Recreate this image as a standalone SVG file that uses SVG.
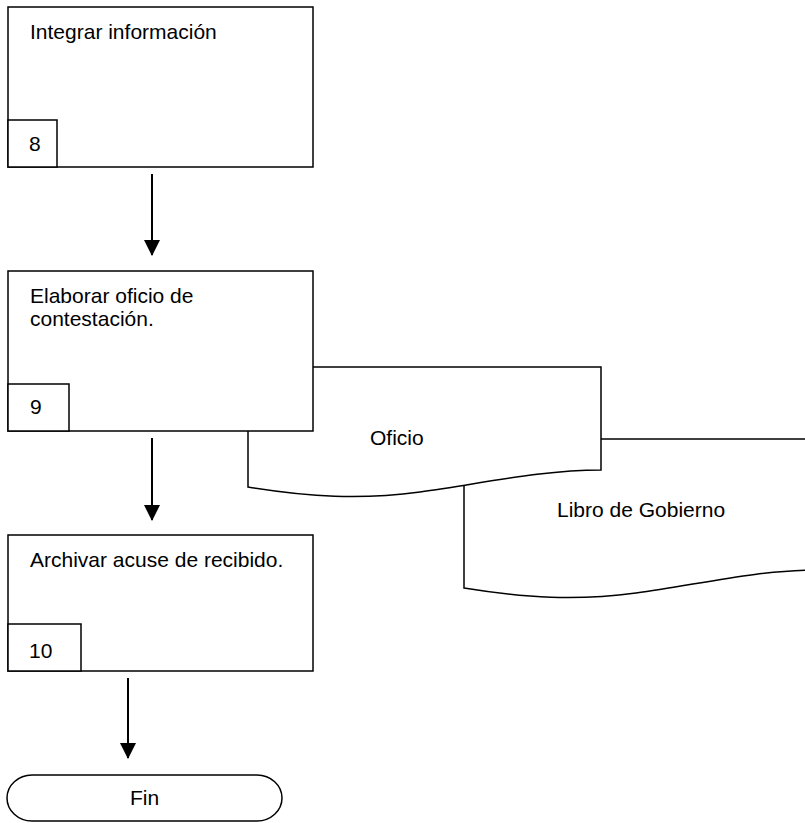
<svg xmlns="http://www.w3.org/2000/svg" width="805" height="823" viewBox="0 0 805 823">
<style>
.shape{fill:#fff;stroke:#000;stroke-width:1.5}
.t{font-family:"Liberation Sans",Arial,sans-serif;font-size:21px;fill:#000}
.conn{stroke:#000;stroke-width:2;fill:none;marker-end:url(#ah)}
</style>
<defs>
<marker id="ah" markerWidth="16" markerHeight="16" viewBox="0 0 16 16" refX="15" refY="8" orient="auto" markerUnits="userSpaceOnUse">
<path d="M0,0 L16,8 L0,16 Z" fill="#000"/>
</marker>
</defs>
<rect width="805" height="823" fill="#fff"/>
<g id="doc-libro">
<path class="shape" d="M464,439 H817 V570 C756,570 696,585 636,593 C576,601 526,598 464,588 Z"/>
<text class="t" x="557" y="517">Libro de Gobierno</text>
</g>
<g id="doc-oficio">
<path class="shape" d="M248,367 H601 V470 C540,470 480,484 420,492 C360,500 310,497 248,487 Z"/>
<text class="t" x="370" y="445">Oficio</text>
</g>
<g id="step8">
<rect class="shape" x="8" y="7" width="305" height="160"/>
<rect class="shape" x="8" y="120" width="49" height="47"/>
<text class="t" x="30" y="39">Integrar información</text>
<text class="t" x="29" y="151">8</text>
</g>
<g id="step9">
<rect class="shape" x="8" y="271" width="305" height="160"/>
<rect class="shape" x="8" y="384" width="61" height="47"/>
<text class="t" x="30" y="303">Elaborar oficio de</text>
<text class="t" x="30" y="326">contestación.</text>
<text class="t" x="30" y="414">9</text>
</g>
<g id="step10">
<rect class="shape" x="8" y="535" width="305" height="136"/>
<rect class="shape" x="8" y="624" width="73" height="47"/>
<text class="t" x="30" y="567">Archivar acuse de recibido.</text>
<text class="t" x="29" y="658">10</text>
</g>
<g id="fin">
<rect class="shape" x="7" y="775" width="275" height="46" rx="25" ry="23"/>
<text class="t" x="144.5" y="805" text-anchor="middle">Fin</text>
</g>
<g id="connectors">
<line class="conn" x1="152" y1="174" x2="152" y2="255"/>
<line class="conn" x1="152" y1="438" x2="152" y2="520"/>
<line class="conn" x1="128" y1="678" x2="128" y2="758"/>
</g>
</svg>
